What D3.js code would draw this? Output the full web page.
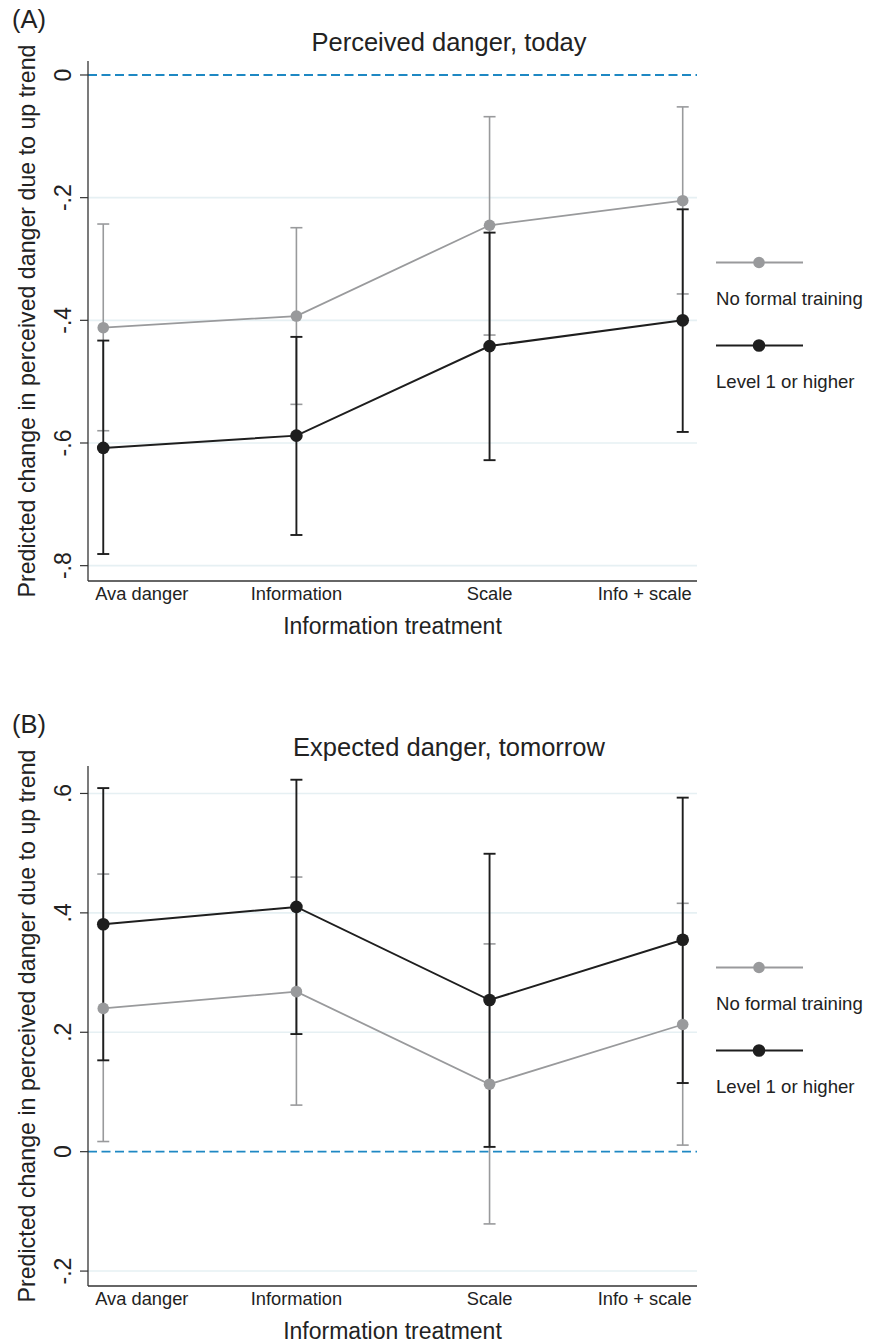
<!DOCTYPE html>
<html lang="en">
<head>
<meta charset="UTF-8">
<title>Predicted change in perceived danger</title>
<script src="https://d3js.org/d3.v7.min.js"></script>
<style>
    html, body {
        margin: 0;
        padding: 0;
        background: #fff;
    }
    text {
        font-family: "Liberation Sans", Arial, sans-serif;
        fill: #222;
    }
</style>
</head>
<body>
<svg id="chart" width="876" height="1344"></svg>
<script>

// categories and series
const categories = ["Ava danger", "Information", "Scale", "Info + scale"];
const seriesNames = ["No formal training", "Level 1 or higher"];

// (A) perceived danger today
const todayNoTrain   = [-0.412, -0.393, -0.245, -0.205];
const todayNoTrainLo = [-0.580, -0.537, -0.424, -0.357];
const todayNoTrainHi = [-0.243, -0.249, -0.068, -0.052];
const todayLevel1    = [-0.608, -0.588, -0.442, -0.400];
const todayLevel1Lo  = [-0.781, -0.750, -0.628, -0.582];
const todayLevel1Hi  = [-0.433, -0.427, -0.257, -0.219];
const todayTicks  = [0, -0.2, -0.4, -0.6, -0.8];
const todayTickLabels = ["0", "-.2", "-.4", "-.6", "-.8"];

// (B) expected danger tomorrow
const tomorrowNoTrain   = [0.240, 0.268, 0.113, 0.213];
const tomorrowNoTrainLo = [0.017, 0.078, -0.121, 0.011];
const tomorrowNoTrainHi = [0.465, 0.460, 0.348, 0.416];
const tomorrowLevel1    = [0.381, 0.410, 0.254, 0.355];
const tomorrowLevel1Lo  = [0.153, 0.197, 0.008, 0.115];
const tomorrowLevel1Hi  = [0.609, 0.623, 0.499, 0.593];
const tomorrowTicks = [-0.2, 0, 0.2, 0.4, 0.6];
const tomorrowTickLabels = ["-.2", "0", ".2", ".4", ".6"];

const svg = d3.select("#chart");
const colors = ["#999a9c", "#1e1e1e"];
const left = 88, right = 697;

const x = d3.scaleLinear().domain([-0.079, 3.074]).range([left, right]);

function drawPanel(opt) {
    const g = svg.append("g").attr("transform", `translate(0,${opt.offset})`);
    const top = 61, bottom = 581;
    const y = d3.scaleLinear().domain(opt.domain).range([bottom, top]);

    // grid lines
    g.append("g").selectAll("line")
        .data(opt.ticks.filter(t => t !== 0))
        .enter().append("line")
        .attr("x1", left).attr("x2", right)
        .attr("y1", d => y(d)).attr("y2", d => y(d))
        .attr("stroke", "#e6f0f3").attr("stroke-width", 1.6);

    // zero reference line
    g.append("line")
        .attr("x1", left).attr("x2", right)
        .attr("y1", y(0)).attr("y2", y(0))
        .attr("stroke", "#1e88c3").attr("stroke-width", 1.9)
        .attr("stroke-dasharray", "9,4.5");

    // axes
    g.append("line").attr("x1", left).attr("x2", left)
        .attr("y1", top).attr("y2", bottom)
        .attr("stroke", "#333").attr("stroke-width", 1.3);
    g.append("line").attr("x1", left).attr("x2", right)
        .attr("y1", bottom).attr("y2", bottom)
        .attr("stroke", "#333").attr("stroke-width", 1.3);

    g.append("g").selectAll("line")
        .data(opt.ticks)
        .enter().append("line")
        .attr("x1", left - 8).attr("x2", left)
        .attr("y1", d => y(d)).attr("y2", d => y(d))
        .attr("stroke", "#333").attr("stroke-width", 1.2);

    g.append("g").selectAll("text")
        .data(opt.ticks)
        .enter().append("text")
        .attr("transform", d => `translate(71,${y(d)}) rotate(-90)`)
        .attr("text-anchor", "middle")
        .style("font-size", "23px")
        .text((d, i) => opt.tickLabels[i]);

    // category labels, end ones kept inside the axis
    g.append("g").selectAll("text")
        .data(categories)
        .enter().append("text")
        .attr("x", (d, i) => i === 0 ? x(i) - 8 : i === categories.length - 1 ? x(i) + 9 : x(i))
        .attr("y", 600)
        .attr("text-anchor", (d, i) => i === 0 ? "start" : i === categories.length - 1 ? "end" : "middle")
        .style("font-size", "18.3px")
        .text(d => d);

    g.append("text")
        .attr("x", (left + right) / 2).attr("y", 634)
        .attr("text-anchor", "middle")
        .style("font-size", "23px")
        .text("Information treatment");

    g.append("text")
        .attr("transform", `translate(35,${(top + bottom) / 2}) rotate(-90)`)
        .attr("text-anchor", "middle")
        .style("font-size", "23.2px")
        .text("Predicted change in perceived danger due to up trend");

    g.append("text")
        .attr("x", 449).attr("y", 51)
        .attr("text-anchor", "middle")
        .style("font-size", "25.5px")
        .text(opt.title);

    g.append("text")
        .attr("x", 12).attr("y", 28)
        .style("font-size", "25.5px")
        .text(opt.tag);

    // confidence intervals
    opt.series.forEach((s, k) => {
        const ci = g.append("g").attr("stroke", colors[k])
            .attr("stroke-width", k === 0 ? 1.6 : 1.9);
        categories.forEach((c, i) => {
            ci.append("line").attr("x1", x(i)).attr("x2", x(i))
                .attr("y1", y(s.lo[i])).attr("y2", y(s.hi[i]));
            [s.lo[i], s.hi[i]].forEach(v => {
                ci.append("line").attr("x1", x(i) - 6).attr("x2", x(i) + 6)
                    .attr("y1", y(v)).attr("y2", y(v));
            });
        });
    });

    // connected estimates
    const line = d3.line().x((d, i) => x(i)).y(d => y(d));
    opt.series.forEach((s, k) => {
        g.append("path").datum(s.est)
            .attr("d", line)
            .attr("fill", "none")
            .attr("stroke", colors[k])
            .attr("stroke-width", k === 0 ? 1.8 : 2);
        g.append("g").selectAll("circle")
            .data(s.est)
            .enter().append("circle")
            .attr("cx", (d, i) => x(i)).attr("cy", d => y(d))
            .attr("r", k === 0 ? 5.8 : 6.3)
            .attr("fill", colors[k]);
    });

    // legend
    seriesNames.forEach((name, k) => {
        const ly = 262.5 + k * 83;
        g.append("line").attr("x1", 716).attr("x2", 803)
            .attr("y1", ly).attr("y2", ly)
            .attr("stroke", colors[k]).attr("stroke-width", k === 0 ? 1.8 : 2);
        g.append("circle").attr("cx", 759).attr("cy", ly)
            .attr("r", k === 0 ? 5.8 : 6.3).attr("fill", colors[k]);
        g.append("text").attr("x", 716).attr("y", ly + 42)
            .style("font-size", "18.6px")
            .text(name);
    });
}

drawPanel({
    offset: 0,
    tag: "(A)",
    title: "Perceived danger, today",
    domain: [-0.825, 0.0228],
    ticks: todayTicks,
    tickLabels: todayTickLabels,
    series: [
        { est: todayNoTrain, lo: todayNoTrainLo, hi: todayNoTrainHi },
        { est: todayLevel1, lo: todayLevel1Lo, hi: todayLevel1Hi }
    ]
});

drawPanel({
    offset: 705,
    tag: "(B)",
    title: "Expected danger, tomorrow",
    domain: [-0.225, 0.646],
    ticks: tomorrowTicks,
    tickLabels: tomorrowTickLabels,
    series: [
        { est: tomorrowNoTrain, lo: tomorrowNoTrainLo, hi: tomorrowNoTrainHi },
        { est: tomorrowLevel1, lo: tomorrowLevel1Lo, hi: tomorrowLevel1Hi }
    ]
});
</script>
</body>
</html>
